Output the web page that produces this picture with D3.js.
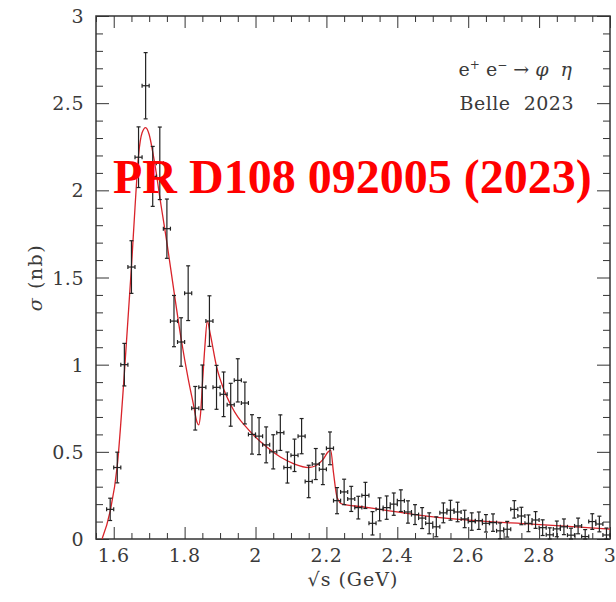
<!DOCTYPE html>
<html>
<head>
<meta charset="utf-8">
<script src="https://cdn.jsdelivr.net/npm/d3@7"></script>
<style>
  body { margin: 0; background: #fff; }
  svg { display: block; }
  text { white-space: pre; }
</style>
</head>
<body>
<svg width="616" height="602"></svg>
<script>
// Belle 2023 : e+e- -> phi eta, section efficace (nb) en fonction de sqrt(s) (GeV)
const energy = [1.59, 1.61, 1.63, 1.65, 1.67, 1.69, 1.71, 1.73, 1.75, 1.77,
                1.79, 1.81, 1.83, 1.85, 1.87, 1.89, 1.91, 1.93, 1.95, 1.97,
                1.99, 2.01, 2.03, 2.05, 2.07, 2.09, 2.11, 2.13, 2.15, 2.17,
                2.19, 2.21, 2.23, 2.25, 2.27, 2.29, 2.31, 2.33, 2.35, 2.37,
                2.39, 2.41, 2.43, 2.45, 2.47, 2.49, 2.51, 2.53, 2.55, 2.57,
                2.59, 2.61, 2.63, 2.65, 2.67, 2.69, 2.71, 2.73, 2.75, 2.77,
                2.79, 2.81, 2.83, 2.85, 2.87, 2.89, 2.91, 2.93, 2.95, 2.97, 2.99];
const sigma = [0.17, 0.41, 1.00, 1.56, 2.19, 2.60, 2.08, 2.155, 1.78, 1.25,
               1.13, 1.41, 0.75, 0.87, 1.25, 0.87, 0.83, 0.77, 0.91, 0.78,
               0.60, 0.59, 0.54, 0.50, 0.61, 0.41, 0.48, 0.59, 0.33, 0.43,
               0.40, 0.52, 0.22, 0.27, 0.23, 0.18, 0.25, 0.09, 0.17, 0.18,
               0.20, 0.22, 0.155, 0.14, 0.12, 0.09, 0.07, 0.15, 0.165, 0.155,
               0.115, 0.10, 0.105, 0.09, 0.094, 0.047, 0.056, 0.17, 0.132, 0.09,
               0.109, 0.065, 0.024, 0.058, 0.07, 0.022, 0.075, 0.014, 0.10, 0.086, 0.023];
const sigmaErr = [0.064, 0.088, 0.122, 0.151, 0.174, 0.19, 0.172, 0.208, 0.17, 0.147,
                  0.139, 0.157, 0.125, 0.128, 0.145, 0.126, 0.128, 0.123, 0.124, 0.12,
                  0.113, 0.106, 0.103, 0.098, 0.102, 0.089, 0.093, 0.101, 0.093, 0.089,
                  0.088, 0.094, 0.075, 0.073, 0.072, 0.065, 0.075, 0.067, 0.066, 0.067,
                  0.064, 0.062, 0.064, 0.057, 0.06, 0.06, 0.057, 0.057, 0.057, 0.056,
                  0.05, 0.05, 0.05, 0.05, 0.05, 0.045, 0.045, 0.05, 0.05, 0.048,
                  0.048, 0.045, 0.04, 0.045, 0.045, 0.04, 0.045, 0.04, 0.045, 0.045, 0.04];
const binHalf = 0.01;

// Courbe d'ajustement
const fitX = [1.567, 1.59, 1.61, 1.63, 1.65, 1.66, 1.67, 1.68, 1.69, 1.70,
              1.71, 1.72, 1.73, 1.74, 1.75, 1.77, 1.79, 1.81, 1.825, 1.835,
              1.840, 1.845, 1.85, 1.857, 1.864, 1.872, 1.89, 1.91, 1.93, 1.95,
              1.97, 1.99, 2.03, 2.07, 2.11, 2.15, 2.17, 2.19, 2.205, 2.212,
              2.22, 2.23, 2.245, 2.30, 2.35, 2.45, 2.60, 2.78, 3.00];
const fitY = [0, 0.16, 0.42, 0.95, 1.56, 1.90, 2.20, 2.33, 2.36, 2.32,
              2.22, 2.10, 1.96, 1.83, 1.70, 1.42, 1.15, 0.92, 0.77, 0.67,
              0.655, 0.72, 0.88, 1.10, 1.25, 1.18, 0.99, 0.86, 0.77, 0.70,
              0.65, 0.605, 0.53, 0.47, 0.43, 0.41, 0.42, 0.455, 0.50, 0.51,
              0.38, 0.24, 0.20, 0.185, 0.17, 0.14, 0.108, 0.085, 0.057];

const xTicks = [1.6, 1.8, 2.0, 2.2, 2.4, 2.6, 2.8, 3.0];
const yTicks = [0, 0.5, 1, 1.5, 2, 2.5, 3];

const m = { left: 96, right: 610, top: 16, bottom: 539 };
const svg = d3.select("svg");

const x = d3.scaleLinear().domain([1.55, 3.0]).range([m.left, m.right]);
const y = d3.scaleLinear().domain([0, 3]).range([m.bottom, m.top]);

const axisColor = "#333";
const textColor = "#3a3a3a";
const serif = "'DejaVu Serif', serif";

// Cadre
svg.append("rect")
    .attr("x", m.left).attr("y", m.top)
    .attr("width", m.right - m.left).attr("height", m.bottom - m.top)
    .attr("fill", "none").attr("stroke", axisColor).attr("stroke-width", 1.5);

// Graduations (vers l'intérieur, sur les quatre côtés)
const xMinor = d3.range(1.55, 3.001, 0.05).map(d => +d.toFixed(2));
const yMinor = d3.range(0, 3.001, 0.1).map(d => +d.toFixed(1));
const isMajorX = d => xTicks.some(t => Math.abs(t - d) < 1e-6);
const isMajorY = d => yTicks.some(t => Math.abs(t - d) < 1e-6);

svg.append("g").attr("transform", `translate(0,${m.bottom})`)
    .call(d3.axisBottom(x).tickValues(xMinor).tickSize(0).tickFormat(""))
    .call(g => g.select(".domain").remove())
    .call(g => g.selectAll(".tick line").attr("y2", d => -(isMajorX(d) ? 12 : 6)).attr("stroke", axisColor));
svg.append("g").attr("transform", `translate(0,${m.top})`)
    .call(d3.axisTop(x).tickValues(xMinor).tickSize(0).tickFormat(""))
    .call(g => g.select(".domain").remove())
    .call(g => g.selectAll(".tick line").attr("y2", d => (isMajorX(d) ? 12 : 6)).attr("stroke", axisColor));
svg.append("g").attr("transform", `translate(${m.left},0)`)
    .call(d3.axisLeft(y).tickValues(yMinor).tickSize(0).tickFormat(""))
    .call(g => g.select(".domain").remove())
    .call(g => g.selectAll(".tick line").attr("x2", d => (isMajorY(d) ? 13 : 7)).attr("stroke", axisColor));
svg.append("g").attr("transform", `translate(${m.right},0)`)
    .call(d3.axisRight(y).tickValues(yMinor).tickSize(0).tickFormat(""))
    .call(g => g.select(".domain").remove())
    .call(g => g.selectAll(".tick line").attr("x2", d => -(isMajorY(d) ? 13 : 7)).attr("stroke", axisColor));

// Libellés des graduations
svg.append("g").selectAll("text")
    .data(xTicks).enter().append("text")
    .attr("x", d => x(d)).attr("y", m.bottom + 23)
    .attr("text-anchor", "middle")
    .attr("font-family", serif).attr("font-size", 19).attr("letter-spacing", 0.5)
    .attr("fill", textColor)
    .text(d => d3.format("~g")(d));
svg.append("g").selectAll("text")
    .data(yTicks).enter().append("text")
    .attr("x", m.left - 12).attr("y", d => y(d) + 7)
    .attr("text-anchor", "end")
    .attr("font-family", serif).attr("font-size", 19).attr("letter-spacing", 0.5)
    .attr("fill", textColor)
    .text(d => d3.format("~g")(d));

// Titres des axes
svg.append("text")
    .attr("x", (m.left + m.right) / 2).attr("y", 586)
    .attr("text-anchor", "middle")
    .attr("font-family", serif).attr("font-size", 19).attr("letter-spacing", 1)
    .attr("fill", textColor)
    .text("√s (GeV)");
svg.append("text")
    .attr("transform", `translate(42,${(m.top + m.bottom) / 2}) rotate(-90)`)
    .attr("text-anchor", "middle")
    .attr("font-family", serif).attr("font-size", 19).attr("letter-spacing", 1.5)
    .attr("fill", textColor)
    .html("<tspan font-style='italic'>σ</tspan> (nb)");

// Courbe d'ajustement
const line = d3.line()
    .x((d, i) => x(fitX[i]))
    .y(d => y(d))
    .curve(d3.curveMonotoneX);
svg.append("path")
    .datum(fitY)
    .attr("d", line)
    .attr("fill", "none")
    .attr("stroke", "#d9232a")
    .attr("stroke-width", 1.3);

// Points avec barres d'erreur
const pts = svg.append("g").attr("stroke", "#222").attr("stroke-width", 1.2);
const cap = 2;
energy.forEach((e, i) => {
    const cx = x(e), cy = y(sigma[i]);
    const y1 = y(Math.max(0, sigma[i] - sigmaErr[i])), y2 = y(sigma[i] + sigmaErr[i]);
    const x1 = x(e - binHalf), x2 = x(e + binHalf);
    pts.append("line").attr("x1", cx).attr("x2", cx).attr("y1", y1).attr("y2", y2);
    pts.append("line").attr("x1", cx - cap).attr("x2", cx + cap).attr("y1", y1).attr("y2", y1);
    pts.append("line").attr("x1", cx - cap).attr("x2", cx + cap).attr("y1", y2).attr("y2", y2);
    pts.append("line").attr("x1", x1).attr("x2", x2).attr("y1", cy).attr("y2", cy);
    pts.append("line").attr("x1", x1).attr("x2", x1).attr("y1", cy - cap).attr("y2", cy + cap);
    pts.append("line").attr("x1", x2).attr("x2", x2).attr("y1", cy - cap).attr("y2", cy + cap);
});

// Légende
svg.append("text")
    .attr("x", 572).attr("y", 76)
    .attr("text-anchor", "end")
    .attr("font-family", serif).attr("font-size", 19)
    .attr("fill", textColor)
    .html("e<tspan dy='-7' font-size='12'>+</tspan><tspan dy='7'> e</tspan><tspan dy='-7' font-size='12'>−</tspan><tspan dy='7'> → </tspan><tspan font-style='italic'>φ  η</tspan>");
svg.append("text")
    .attr("x", 574).attr("y", 110)
    .attr("text-anchor", "end")
    .attr("font-family", serif).attr("font-size", 19).attr("letter-spacing", 0.5)
    .attr("fill", textColor)
    .text("Belle  2023");

// Référence en surimpression
svg.append("text")
    .attr("x", 113).attr("y", 193)
    .attr("font-family", "'Liberation Serif', 'Times New Roman', serif")
    .attr("font-weight", "bold")
    .attr("font-size", 48)
    .attr("fill", "#ff0000")
    .text("PR D108 092005 (2023)");
</script>
</body>
</html>
